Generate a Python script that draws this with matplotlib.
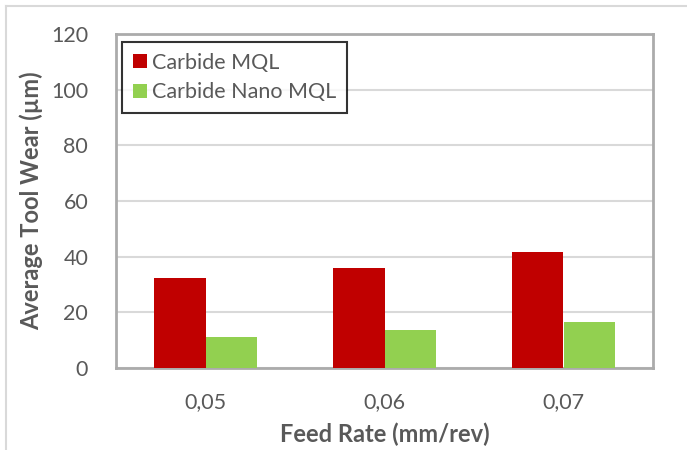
import matplotlib
matplotlib.use("Agg")
import matplotlib.pyplot as plt
from matplotlib.lines import Line2D
import numpy as np

plt.rcParams['font.family'] = ['Lato', 'DejaVu Sans']

categories = ["0,05", "0,06", "0,07"]
carbide_mql = [32.2, 36.0, 41.6]
carbide_nano_mql = [11.3, 13.7, 16.5]
series_labels = ["Carbide MQL", "Carbide Nano MQL"]
yticks = [0, 20, 40, 60, 80, 100, 120]

text_color = "#595959"
red = "#C00000"
green = "#92D050"

W, H = 687, 450
fig = plt.figure(figsize=(W / 100, H / 100), dpi=100)
ax = fig.add_axes([116 / W, 1 - 368 / H, (653 - 116) / W, (368 - 34) / H])

x = np.arange(len(categories))
bw = 0.287
ax.bar(x - bw / 2, carbide_mql, width=bw, color=red, label=series_labels[0], zorder=3)
ax.bar(x + bw / 2, carbide_nano_mql, width=bw, color=green, label=series_labels[1], zorder=3)

ax.set_xlim(-0.5, len(categories) - 0.5)
ax.set_ylim(0, 120)
ax.set_yticks(yticks)
ax.set_xticks(x)
ax.set_xticklabels(categories)
ax.yaxis.grid(True, color="#D9D9D9", linewidth=1.5, zorder=0)
ax.set_axisbelow(True)
ax.tick_params(axis="both", length=0, labelsize=15.5, colors=text_color)
ax.tick_params(axis="x", pad=17)
ax.tick_params(axis="y", pad=20)
for s in ax.spines.values():
    s.set_color("#ABABAB")
    s.set_linewidth(2)

ax.set_xlabel("Feed Rate (mm/rev)", fontsize=17, fontweight="bold", color=text_color, labelpad=8)
ax.set_ylabel("Average Tool Wear (µm)", fontsize=17, fontweight="bold", color=text_color, labelpad=6)

leg = ax.legend(loc="upper left", bbox_to_anchor=(6 / 537, 1 - 8 / 334), borderaxespad=0,
                fontsize=15.5, frameon=True, fancybox=False, handlelength=0.65, handleheight=0.65,
                handletextpad=0.25, borderpad=0.5, labelspacing=0.45)
leg.get_frame().set_edgecolor("black")
leg.get_frame().set_linewidth(1.5)
for t in leg.get_texts():
    t.set_color(text_color)

# outer chart frame (top and left edges)
fig.add_artist(Line2D([6 / W, 1.0], [1 - 6 / H, 1 - 6 / H], color="#D9D9D9", linewidth=1.5, transform=fig.transFigure))
fig.add_artist(Line2D([6 / W, 6 / W], [0, 1 - 6 / H], color="#D9D9D9", linewidth=1.5, transform=fig.transFigure))

fig.savefig("out.png", dpi=100)
